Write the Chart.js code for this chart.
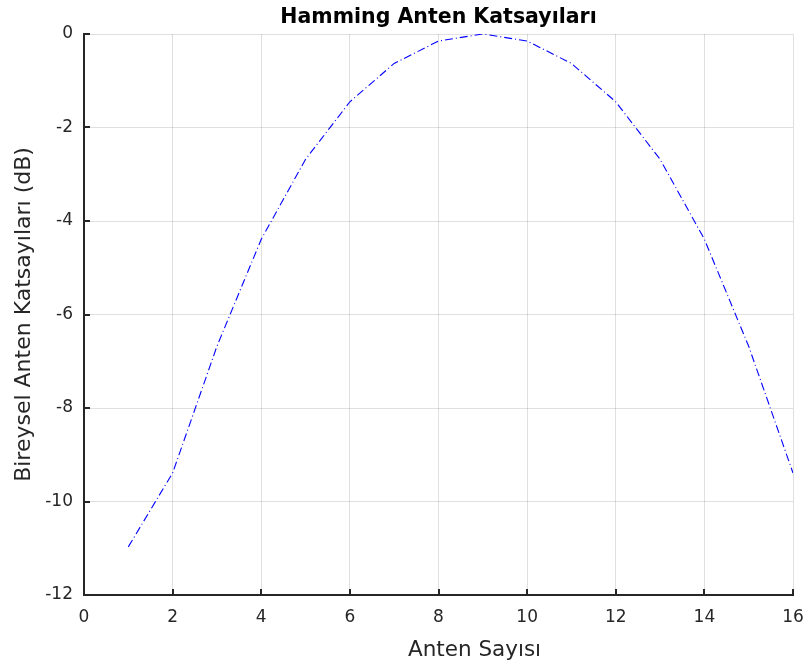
<!DOCTYPE html>
<html>
<head>
<meta charset="utf-8">
<script src="https://cdn.jsdelivr.net/npm/chart.js@4"></script>
<style>
  html, body { margin: 0; padding: 0; background: #fff; }
  #wrap { width: 806px; height: 671px; }
</style>
</head>
<body>
<div id="wrap"><canvas id="chart" width="806" height="671"></canvas></div>
<script>
// Veriler
const antenNo = [1, 2, 3, 4, 5, 6, 7, 8, 9, 10, 11, 12, 13, 14, 15, 16];
const katsayiDb = [-10.97, -9.39, -6.68, -4.39, -2.68, -1.45, -0.63, -0.15, 0,
                   -0.15, -0.63, -1.45, -2.68, -4.39, -6.68, -9.39];
const xTicks = [0, 2, 4, 6, 8, 10, 12, 14, 16];
const yTicks = [-12, -10, -8, -6, -4, -2, 0];

const TITLE = "Hamming Anten Katsayıları";
const XLABEL = "Anten Sayısı";
const YLABEL = "Bireysel Anten Katsayıları (dB)";

const FONT = "'DejaVu Sans', Arial, sans-serif";
const AXIS = "#262626";

// İçe dönük tick çizgileri + başlık ve x etiketi (MATLAB tarzı)
const matlabStyle = {
  id: "matlabStyle",
  afterDraw(chart) {
    const { ctx, chartArea: a, scales: { x, y } } = chart;
    ctx.save();
    ctx.strokeStyle = AXIS;
    ctx.lineWidth = 2;
    ctx.beginPath();
    xTicks.forEach(v => {
      const px = Math.round(x.getPixelForValue(v));
      ctx.moveTo(px, a.bottom);
      ctx.lineTo(px, a.bottom - 6);
    });
    yTicks.forEach(v => {
      const py = Math.round(y.getPixelForValue(v));
      ctx.moveTo(a.left, py);
      ctx.lineTo(a.left + 6, py);
    });
    ctx.stroke();

    // Başlık
    const cx = (a.left + a.right) / 2;
    ctx.textAlign = "center";
    ctx.textBaseline = "alphabetic";
    ctx.fillStyle = "#000";
    ctx.font = "bold 20.5px " + FONT;
    ctx.fillText(TITLE, cx, 23);

    // X ekseni etiketi
    ctx.fillStyle = AXIS;
    ctx.font = "21.5px " + FONT;
    ctx.fillText(XLABEL, cx + 36, 656);
    ctx.restore();
  }
};

const data = antenNo.map((n, i) => ({ x: n, y: katsayiDb[i] }));

new Chart(document.getElementById("chart"), {
  type: "scatter",
  data: {
    datasets: [{
      data: data,
      showLine: true,
      borderColor: "#0000ff",
      borderWidth: 1.1,
      borderDash: [8, 3, 1, 3],
      pointRadius: 0,
      fill: false
    }]
  },
  options: {
    responsive: false,
    animation: false,
    layout: { padding: { right: 13, left: 0, top: 34, bottom: 0 } },
    plugins: {
      legend: { display: false },
      tooltip: { enabled: false },
      title: { display: false }
    },
    scales: {
      x: {
        type: "linear",
        min: 0,
        max: 16,
        afterFit: s => { s.height = 76; s.paddingLeft = 0; s.paddingRight = 0; },
        afterBuildTicks: s => { s.ticks = xTicks.map(v => ({ value: v })); },
        ticks: {
          color: AXIS,
          font: { family: FONT, size: 17 },
          padding: 12,
          maxRotation: 0
        },
        grid: { color: "rgba(38,38,38,0.15)", drawTicks: false },
        border: { color: AXIS, width: 2 },
        title: { display: false }
      },
      y: {
        type: "linear",
        min: -12,
        max: 0,
        afterFit: s => { s.width = 84; s.paddingTop = 0; s.paddingBottom = 0; },
        afterBuildTicks: s => { s.ticks = yTicks.map(v => ({ value: v })); },
        ticks: {
          color: AXIS,
          font: { family: FONT, size: 17 },
          padding: 11
        },
        grid: { color: "rgba(38,38,38,0.15)", drawTicks: false },
        border: { color: AXIS, width: 2 },
        title: {
          display: true,
          text: YLABEL,
          color: AXIS,
          font: { family: FONT, size: 22 },
          padding: { top: 11, bottom: 0 }
        }
      }
    }
  },
  plugins: [matlabStyle]
});
</script>
</body>
</html>
